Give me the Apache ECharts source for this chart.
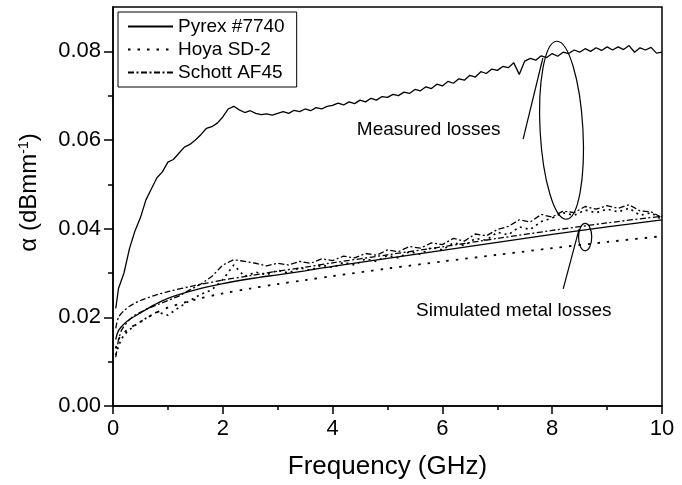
<!DOCTYPE html>
<html>
<head>
<meta charset="utf-8">
<script src="https://cdn.jsdelivr.net/npm/echarts@6/dist/echarts.min.js"></script>
<style>
  html, body { margin: 0; padding: 0; background: #fff; }
  #chart { width: 682px; height: 485px; }
</style>
</head>
<body>
<div id="chart"></div>
<script>
// Measured losses, Pyrex (0.1 GHz steps)
const freqPyrex = [0.05, 0.1, 0.2, 0.3, 0.4, 0.5, 0.6, 0.7, 0.8, 0.9,
    1.0, 1.1, 1.2, 1.3, 1.4, 1.5, 1.6, 1.7, 1.8, 1.9,
    2.0, 2.1, 2.2, 2.3, 2.4, 2.5, 2.6, 2.7, 2.8, 2.9,
    3.0, 3.1, 3.2, 3.3, 3.4, 3.5, 3.6, 3.7, 3.8, 3.9,
    4.0, 4.1, 4.2, 4.3, 4.4, 4.5, 4.6, 4.7, 4.8, 4.9,
    5.0, 5.1, 5.2, 5.3, 5.4, 5.5, 5.6, 5.7, 5.8, 5.9,
    6.0, 6.1, 6.2, 6.3, 6.4, 6.5, 6.6, 6.7, 6.8, 6.9,
    7.0, 7.1, 7.2, 7.3, 7.4, 7.5, 7.6, 7.7, 7.8, 7.9,
    8.0, 8.1, 8.2, 8.3, 8.4, 8.5, 8.6, 8.7, 8.8, 8.9,
    9.0, 9.1, 9.2, 9.3, 9.4, 9.5, 9.6, 9.7, 9.8, 9.9, 10.0];
const pyrexMeas = [0.0220, 0.0265, 0.0300, 0.0355, 0.0395, 0.0425, 0.0465, 0.0490, 0.0515, 0.0528,
    0.0550, 0.0556, 0.0570, 0.0584, 0.0590, 0.0600, 0.0612, 0.0626, 0.0630, 0.0638,
    0.0652, 0.0670, 0.0676, 0.0668, 0.0662, 0.0666, 0.0660, 0.0657, 0.0659, 0.0656,
    0.0660, 0.0664, 0.0660, 0.0667, 0.0664, 0.0670, 0.0666, 0.0673, 0.0670, 0.0676,
    0.0678, 0.0683, 0.0679, 0.0686, 0.0682, 0.0690, 0.0686, 0.0694, 0.0690, 0.0698,
    0.0696, 0.0703, 0.0700, 0.0708, 0.0705, 0.0714, 0.0711, 0.0720, 0.0716, 0.0726,
    0.0722, 0.0732, 0.0728, 0.0738, 0.0735, 0.0746, 0.0742, 0.0754, 0.0750, 0.0760,
    0.0757, 0.0766, 0.0763, 0.0774, 0.0748, 0.0778, 0.0784, 0.0780, 0.0790, 0.0786,
    0.0795, 0.0789, 0.0798, 0.0795, 0.0803, 0.0798, 0.0806, 0.0800, 0.0808, 0.0802,
    0.0810, 0.0803, 0.0810, 0.0804, 0.0813, 0.0798, 0.0808, 0.0803, 0.0809, 0.0796, 0.0798];

// Measured losses, Hoya and Schott
const freqMeas = [0.05, 0.1, 0.15, 0.2, 0.3, 0.4, 0.6, 0.8, 1.0, 1.2,
    1.4, 1.6, 1.8, 2.0, 2.2, 2.4, 2.6, 2.8, 3.0, 3.2,
    3.4, 3.6, 3.8, 4.0, 4.2, 4.4, 4.6, 4.8, 5.0, 5.2,
    5.4, 5.6, 5.8, 6.0, 6.2, 6.4, 6.6, 6.8, 7.0, 7.2,
    7.4, 7.6, 7.8, 8.0, 8.2, 8.4, 8.6, 8.8, 9.0, 9.2,
    9.4, 9.6, 9.8, 10.0];
const hoyaMeas = [0.0115, 0.0135, 0.0150, 0.0160, 0.0172, 0.0182, 0.0198, 0.0212, 0.0205, 0.0222,
    0.0238, 0.0252, 0.0262, 0.0285, 0.0318, 0.0292, 0.0302, 0.0296, 0.0306, 0.0300,
    0.0312, 0.0306, 0.0318, 0.0312, 0.0324, 0.0318, 0.0332, 0.0326, 0.0340, 0.0334,
    0.0348, 0.0342, 0.0358, 0.0352, 0.0368, 0.0362, 0.0378, 0.0374, 0.0392, 0.0386,
    0.0404, 0.0398, 0.0416, 0.0424, 0.0436, 0.0430, 0.0442, 0.0436, 0.0444, 0.0438,
    0.0446, 0.0430, 0.0436, 0.0420];
const schottMeas = [0.0110, 0.0150, 0.0170, 0.0180, 0.0195, 0.0205, 0.0218, 0.0228, 0.0238, 0.0248,
    0.0262, 0.0275, 0.0292, 0.0318, 0.0330, 0.0326, 0.0322, 0.0316, 0.0322, 0.0318,
    0.0326, 0.0322, 0.0332, 0.0328, 0.0338, 0.0334, 0.0344, 0.0340, 0.0352, 0.0348,
    0.0360, 0.0356, 0.0368, 0.0364, 0.0378, 0.0372, 0.0388, 0.0384, 0.0398, 0.0405,
    0.0420, 0.0415, 0.0432, 0.0426, 0.0440, 0.0436, 0.0450, 0.0444, 0.0452, 0.0446,
    0.0454, 0.0440, 0.0438, 0.0425];

// Simulated metal losses
const freqSim = [0.05, 0.1, 0.2, 0.3, 0.5, 0.75, 1, 1.5, 2, 2.5, 3, 3.5, 4, 5, 6, 7, 8, 9, 10];
const pyrexSim = [0.0150, 0.0170, 0.0185, 0.0195, 0.0210, 0.0228, 0.0243, 0.0262, 0.0276, 0.0287,
    0.0296, 0.0305, 0.0315, 0.0333, 0.0351, 0.0369, 0.0387, 0.0404, 0.0420];
const hoyaSim = [0.0130, 0.0150, 0.0165, 0.0175, 0.0190, 0.0208, 0.0222, 0.0240, 0.0254, 0.0265,
    0.0275, 0.0284, 0.0293, 0.0310, 0.0326, 0.0341, 0.0356, 0.0370, 0.0383];
const schottSim = [0.0175, 0.0200, 0.0215, 0.0225, 0.0238, 0.0249, 0.0258, 0.0272, 0.0284, 0.0294,
    0.0304, 0.0313, 0.0323, 0.0341, 0.0359, 0.0378, 0.0396, 0.0413, 0.0428];

const legendNames = ['Pyrex #7740', 'Hoya SD-2', 'Schott AF45'];
const yMajorTicks = [0, 0.02, 0.04, 0.06, 0.08];
const yMinorTicks = [0.01, 0.03, 0.05, 0.07];

const FONT = 'Liberation Sans, Arial, sans-serif';
const SOLID = 'solid';
const DOTTED = [2, 4];
const DOTTED_SIM = [2.5, 7];
const DASHDOT = [6, 2.5, 2, 2.5];

const zip = (xs, ys) => xs.map((x, i) => [x, ys[i]]);

const chartContainer = document.getElementById('chart');
const chart = echarts.init(chartContainer, null, { renderer: 'canvas' });

function lineSeries(name, xs, ys, type, width, smooth) {
    return {
        name: name,
        type: 'line',
        data: zip(xs, ys),
        symbol: 'none',
        showSymbol: false,
        smooth: smooth || false,
        animation: false,
        itemStyle: { color: '#000' },
        lineStyle: { color: '#000', width: width, type: type }
    };
}

const option = {
    animation: false,
    backgroundColor: '#fff',
    grid: {
        left: 113, top: 7, right: 20, bottom: 78,
        show: true, borderColor: '#000', borderWidth: 1.5
    },
    legend: {
        data: legendNames,
        orient: 'vertical',
        left: 118,
        top: 12,
        padding: [5, 12, 5, 9],
        itemWidth: 45,
        itemHeight: 18,
        itemGap: 4,
        backgroundColor: '#fff',
        borderColor: '#000',
        borderWidth: 1,
        itemStyle: { opacity: 0 },
        textStyle: { fontFamily: FONT, fontSize: 19, color: '#000' }
    },
    xAxis: {
        type: 'value',
        min: 0,
        max: 10,
        interval: 2,
        name: 'Frequency (GHz)',
        nameLocation: 'middle',
        nameGap: 48,
        nameTextStyle: { fontFamily: FONT, fontSize: 26, color: '#000' },
        axisLine: { lineStyle: { color: '#000', width: 1.5 } },
        axisTick: { inside: false, length: 8, lineStyle: { color: '#000', width: 1.5 } },
        minorTick: { show: true, splitNumber: 2, length: 4, lineStyle: { color: '#000', width: 1.5 } },
        axisLabel: { fontFamily: FONT, fontSize: 22, color: '#000', margin: 12 },
        splitLine: { show: false }
    },
    yAxis: [{
        type: 'value',
        min: 0,
        max: 0.09,
        interval: 0.02,
        name: 'α (dBmm{sup|-1})',
        nameLocation: 'middle',
        nameGap: 72,
        nameRotate: 90,
        nameTextStyle: {
            fontFamily: FONT, fontSize: 24, color: '#000',
            padding: [0, 0, 0, 28],
            rich: { sup: { fontFamily: FONT, fontSize: 14, color: '#000', verticalAlign: 'top' } }
        },
        axisLine: { lineStyle: { color: '#000', width: 1.5 } },
        axisTick: { inside: false, length: 9, customValues: yMajorTicks, lineStyle: { color: '#000', width: 1.5 } },
        axisLabel: {
            customValues: yMajorTicks,
            fontFamily: FONT, fontSize: 22, color: '#000', margin: 12,
            formatter: v => v.toFixed(2)
        },
        splitLine: { show: false }
    }, {
        type: 'value',
        min: 0,
        max: 0.09,
        position: 'left',
        axisLine: { show: false },
        axisTick: { inside: false, length: 5, customValues: yMinorTicks, lineStyle: { color: '#000', width: 1.5 } },
        axisLabel: { show: false },
        splitLine: { show: false }
    }],
    series: [
        lineSeries(legendNames[0], freqPyrex, pyrexMeas, SOLID, 1.3),
        lineSeries(legendNames[1], freqSim, hoyaSim, DOTTED_SIM, 1.8, 0.3),
        lineSeries(legendNames[2], freqMeas, schottMeas, DASHDOT, 1.3),
        lineSeries(legendNames[0], freqSim, pyrexSim, SOLID, 1.3, 0.3),
        lineSeries(legendNames[1], freqMeas, hoyaMeas, DOTTED, 1.7),
        lineSeries(legendNames[2], freqSim, schottSim, DASHDOT, 1.3, 0.3)
    ]
};

chart.setOption(option);

// Annotations placed in data coordinates
function px(f, v) {
    return chart.convertToPixel({ xAxisIndex: 0, yAxisIndex: 0 }, [f, v]);
}

function drawAnnotations() {
    const bigC = px(8.17, 0.0622);
    const bigTop = px(8.17, 0.0823);
    const bigRight = px(8.56, 0.0622);
    const smallC = px(8.6, 0.0381);
    const smallTop = px(8.6, 0.0412);
    const smallRight = px(8.72, 0.0381);
    const measA = px(7.47, 0.0602);
    const measB = px(7.83, 0.0785);
    const simA = px(8.2, 0.0264);
    const simB = px(8.49, 0.0399);
    const measText = px(5.75, 0.0622);
    const simText = px(7.3, 0.0215);
    const stroke = { stroke: '#000', lineWidth: 1.2, fill: null };

    chart.setOption({
        graphic: [
            {
                type: 'ellipse',
                x: bigC[0], y: bigC[1],
                rotation: 0.055,
                shape: { cx: 0, cy: 0, rx: bigRight[0] - bigC[0], ry: bigC[1] - bigTop[1] },
                style: stroke, z: 100
            },
            {
                type: 'ellipse',
                shape: { cx: smallC[0], cy: smallC[1], rx: smallRight[0] - smallC[0], ry: smallC[1] - smallTop[1] },
                style: stroke, z: 100
            },
            {
                type: 'line',
                shape: { x1: measA[0], y1: measA[1], x2: measB[0], y2: measB[1] },
                style: stroke, z: 100
            },
            {
                type: 'line',
                shape: { x1: simA[0], y1: simA[1], x2: simB[0], y2: simB[1] },
                style: stroke, z: 100
            },
            {
                type: 'text',
                x: measText[0], y: measText[1],
                style: {
                    text: 'Measured losses', fontFamily: FONT, fontSize: 19, fill: '#000',
                    align: 'center', verticalAlign: 'middle'
                },
                z: 100
            },
            {
                type: 'text',
                x: simText[0], y: simText[1],
                style: {
                    text: 'Simulated metal losses', fontFamily: FONT, fontSize: 19, fill: '#000',
                    align: 'center', verticalAlign: 'middle'
                },
                z: 100
            }
        ]
    });
}

drawAnnotations();
</script>
</body>
</html>
